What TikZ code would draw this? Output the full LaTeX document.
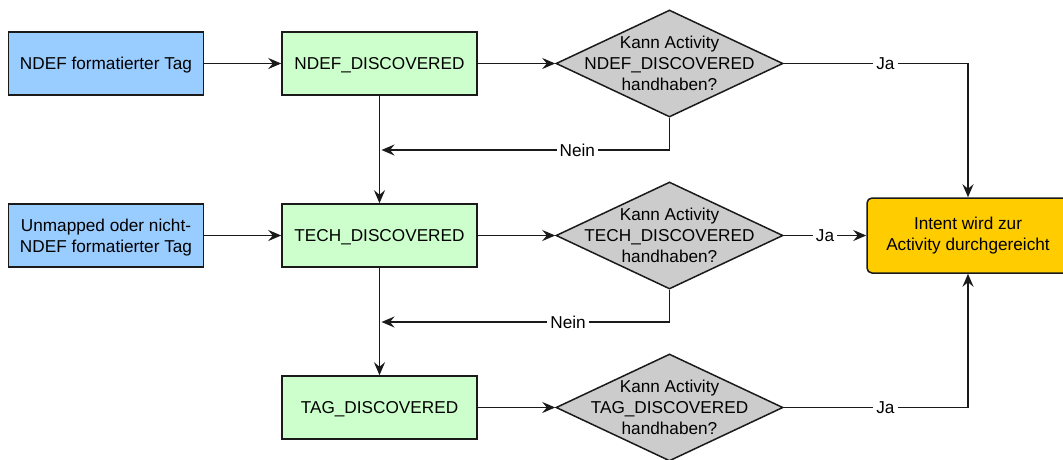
\documentclass[tikz,border=0pt]{standalone}
\usepackage{fontspec}
\setmainfont{Liberation Sans}
\usetikzlibrary{shapes.geometric,arrows.meta}

\definecolor{tagblue}{HTML}{99CCFF}
\definecolor{filtergreen}{HTML}{CCFFCC}
\definecolor{askgrey}{HTML}{CCCCCC}
\definecolor{resultorange}{HTML}{FFCC00}
\definecolor{ink}{HTML}{1A1A1A}

\begin{document}
\begin{tikzpicture}[x=1pt,y=-1pt,
  every node/.style={font=\fontsize{17.2}{21}\selectfont, text=black},
  line/.style={line width=1.5pt, draw=ink},
  arr/.style={line, -{Stealth[length=13pt,width=11pt,inset=4.5pt]}},
  tagbox/.style={draw=ink, line width=1.5pt, fill=tagblue, minimum width=195pt,
    minimum height=63pt, align=center, inner sep=0pt, text depth=0pt},
  filterbox/.style={tagbox, fill=filtergreen},
  askbox/.style={diamond, draw=ink, line width=1.5pt, fill=askgrey,
    minimum width=227pt, minimum height=107pt, inner sep=0pt},
  asktext/.style={align=center, inner sep=0pt},
  resultbox/.style={draw=ink, line width=1.5pt, fill=resultorange, rounded corners=5pt,
    minimum width=202pt, minimum height=75pt, align=center, inner sep=0pt},
  lab/.style={fill=white, inner xsep=3pt, inner ysep=1pt}
]
\useasboundingbox (0,0) rectangle (1063,459);

% source tags
\node[tagbox] (t1) at (106,63.5) {NDEF formatierter Tag};
\node[tagbox] (t2) at (106,235.5) {Unmapped oder nicht-\\NDEF formatierter Tag};

% intent filters
\node[filterbox] (f1) at (379.5,63.5) {NDEF\_DISCOVERED};
\node[filterbox] (f2) at (379.5,235.5) {TECH\_DISCOVERED};
\node[filterbox] (f3) at (379.5,407.5) {TAG\_DISCOVERED};

% decisions
\node[askbox] (d1) at (669.5,63.5) {};
\node[asktext] (q1) at (d1.center) {Kann Activity\\NDEF\_DISCOVERED\\handhaben?};
\node[askbox] (d2) at (669.5,235.5) {};
\node[asktext] (q2) at (d2.center) {Kann Activity\\TECH\_DISCOVERED\\handhaben?};
\node[askbox] (d3) at (669.5,407.5) {};
\node[asktext] (q3) at (d3.center) {Kann Activity\\TAG\_DISCOVERED\\handhaben?};

% result
\node[resultbox] (r) at (968,235.5) {Intent wird zur\\Activity durchgereicht};

% join points of the fallback lines
\coordinate (j1) at (381.5,150);
\coordinate (j2) at (381.5,322);

% connectors
\draw[arr] (t1) -- (f1);
\draw[arr] (t2) -- (f2);
\draw[arr] (f1) -- (d1);
\draw[arr] (f2) -- (d2);
\draw[arr] (f3) -- (d3);
\draw[arr] (f1) -- (f2);
\draw[arr] (f2) -- (f3);

\draw[arr] (d1.east) -| node[lab, pos=0.276] {Ja} (r.north);
\draw[arr] (d2.east) -- node[lab, pos=0.5] {Ja} (r.west);
\draw[arr] (d3.east) -| node[lab, pos=0.276] {Ja} (r.south);

\draw[arr] (d1.south) |- node[lab, pos=0.66] {Nein} (j1);
\draw[arr] (d2.south) |- node[lab, pos=0.676] {Nein} (j2);
\end{tikzpicture}
\end{document}
